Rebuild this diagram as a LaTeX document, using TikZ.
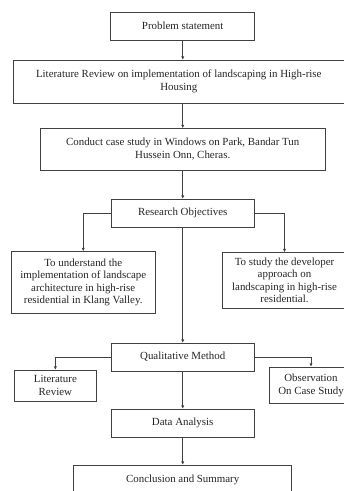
\documentclass[tikz,border=0pt]{standalone}
\usepackage{fontspec}
\setmainfont{Liberation Serif}
\usetikzlibrary{arrows.meta}
\tikzset{
  box/.style={draw=black!75, line width=0.7pt, inner sep=0pt, align=center,
    text=black!85, font=\fontsize{10.9}{12.5}\selectfont},
  arr/.style={draw=black!75, line width=0.7pt, -{Latex[length=3.2pt,width=3.2pt]}}
}
\begin{document}
\begin{tikzpicture}[x=1pt,y=-1pt]
\useasboundingbox (0,0) rectangle (344,491);
\clip (0,0) rectangle (344,491);
\fill[white] (0,0) rectangle (344,491);

\node[box, minimum width=144pt, minimum height=28pt] (ps) at (182.7,26) {Problem statement};
\node[box, minimum width=330.5pt, minimum height=43pt] (lr) at (178.75,81.5)
  {Literature Review on implementation of landscaping in High-rise\\Housing};
\node[box, minimum width=284.5pt, minimum height=41.5pt] (cs) at (182.7,149.25)
  {Conduct case study in Windows on Park, Bandar Tun\\Hussein Onn, Cheras.};
\node[box, minimum width=143.5pt, minimum height=28pt] (ro) at (182.7,213) {Research Objectives};
\node[box, minimum width=144.5pt, minimum height=62pt] (ul) at (83.25,282.5)
  {To understand the\\implementation of landscape\\architecture in high-rise\\residential in Klang Valley.};
\node[box, minimum width=125pt, minimum height=55.5pt] (ur) at (284.5,280.25)
  {To study the developer\\approach on\\landscaping in high-rise\\residential.};
\node[box, minimum width=143.5pt, minimum height=28pt] (qm) at (182.7,357) {Qualitative Method};
\node[box, minimum width=82.7pt, minimum height=31pt] (lit) at (55.35,385.5) {Literature\\Review};
\node[box, minimum width=84pt, minimum height=36.5pt] (obs) at (311,385.25) {Observation\\On Case Study};
\node[box, minimum width=143.5pt, minimum height=28pt] (da) at (182.7,423) {Data Analysis};
\node[box, minimum width=218pt, minimum height=30pt] (cc) at (182.7,480) {Conclusion and Summary};

\draw[arr] (ps.south) -- (ps.south |- lr.north);
\draw[arr] (cs.north |- lr.south) -- (cs.north);
\draw[arr] (cs.south) -- (ro.north);
\draw[arr] (ro.west) -| (ul.north);
\draw[arr] (ro.east) -| (ur.north);
\draw[arr] (ro.south) -- (qm.north);
\draw[arr] (qm.west) -| (lit.north);
\draw[arr] (qm.east) -| (obs.north);
\draw[arr] (qm.south) -- (da.north);
\draw[arr] (da.south) -- (cc.north);
\end{tikzpicture}
\end{document}
